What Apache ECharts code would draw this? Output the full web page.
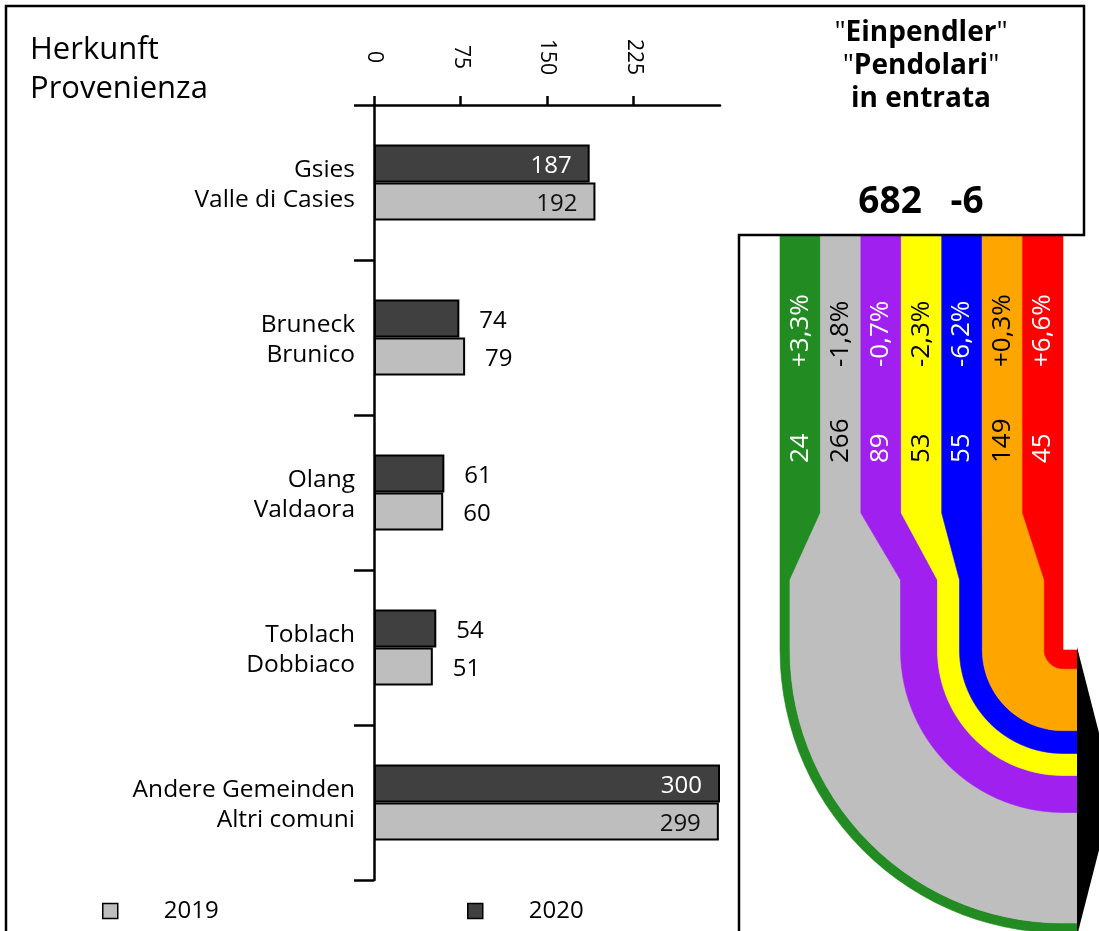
<!DOCTYPE html>
<html>
<head>
<meta charset="utf-8">
<title>Einpendler</title>
<script src="https://cdn.jsdelivr.net/npm/echarts@6/dist/echarts.min.js"></script>
<style>
  html, body { margin: 0; padding: 0; background: #fff; }
  #main { width: 1099px; height: 931px; }
</style>
</head>
<body>
<div id="main"></div>
<script>
// Herkunft / Provenienza
var categories = ['Gsies\nValle di Casies', 'Bruneck\nBrunico', 'Olang\nValdaora', 'Toblach\nDobbiaco', 'Andere Gemeinden\nAltri comuni'];
var values2019 = [192, 79, 60, 51, 299];
var values2020 = [187, 74, 61, 54, 300];
var xTicks = [0, 75, 150, 225];

// Bänder rechts (Einpendler in entrata)
var flowValues = [24, 266, 89, 53, 55, 149, 45];
var flowChange = ['+3,3%', '-1,8%', '-0,7%', '-2,3%', '-6,2%', '+0,3%', '+6,6%'];
var totalIn = 682;
var totalChange = -6;

var flowColors = ['#228b22', '#bebebe', '#a020f0', '#ffff00', '#0000ff', '#ffa500', '#ff0000'];
var flowTextColors = ['#ffffff', '#000000', '#ffffff', '#000000', '#ffffff', '#000000', '#ffffff'];

var FONT = 'Open Sans';
// Abstaende (px) ab Oberkante des Band-Rasters
var LAYOUT = { taperTop: 277, taperBottom: 344, turn: 414, pctY: 131, valY: 227, stub: 14, arrow: 37 };

var flowSum = 0;
var flowData = flowValues.map(function (v, i) {
    var d = [i, v, flowSum];
    flowSum += v;
    return d;
});

function barData(values, insideColor) {
    return values.map(function (v) {
        var inside = v >= 100;
        return {
            value: v,
            label: {
                position: inside ? 'insideRight' : 'right',
                distance: inside ? 18 : 20,
                color: inside ? insideColor : '#000'
            }
        };
    });
}

function arcPoints(cx, cy, r, reverse) {
    var pts = [];
    var steps = 30;
    for (var k = 0; k <= steps; k++) {
        var t = reverse ? 1 - k / steps : k / steps;
        var a = Math.PI - t * Math.PI / 2;
        pts.push([cx + r * Math.cos(a), cy + r * Math.sin(a)]);
    }
    return pts;
}

function renderFlow(params, api) {
    var i = api.value(0), v = api.value(1), c = api.value(2);
    var n = flowValues.length;
    var cs = params.coordSys;
    var px = function (x) { return api.coord([x, 0])[0]; };
    var slot = flowSum / n;
    var tl = px(i * slot), tr = px((i + 1) * slot);
    var bl = px(c), br = px(c + v);
    var cx = px(flowSum);
    var top = cs.y;
    var y1 = top + LAYOUT.taperTop, y2 = top + LAYOUT.taperBottom, cy = top + LAYOUT.turn;
    var xEnd = cx + LAYOUT.stub;
    var ro = cx - bl, ri = cx - br;

    var pts = [[tl, top], [tl, y1], [bl, y2], [bl, cy]];
    pts = pts.concat(arcPoints(cx, cy, ro, false));
    pts.push([xEnd, cy + ro], [xEnd, cy + ri]);
    pts = pts.concat(arcPoints(cx, cy, ri, true));
    pts.push([br, y2], [tr, y1], [tr, top]);

    var mid = (tl + tr) / 2;
    var children = [
        { type: 'polygon', shape: { points: pts },
          style: { fill: flowColors[i], stroke: flowColors[i], lineWidth: 0.6 } },
        { type: 'text', x: mid, y: top + LAYOUT.pctY, rotation: Math.PI / 2,
          style: { text: flowChange[i], fill: flowTextColors[i], font: '26px "' + FONT + '"',
                   align: 'left', verticalAlign: 'middle' } },
        { type: 'text', x: mid, y: top + LAYOUT.valY, rotation: Math.PI / 2,
          style: { text: String(v), fill: flowTextColors[i], font: '26px "' + FONT + '"',
                   align: 'left', verticalAlign: 'middle' } }
    ];
    if (i === n - 1) {
        var full = cx - px(0);
        children.push({ type: 'polygon',
            shape: { points: [[xEnd, cy - 3], [xEnd + LAYOUT.arrow, cy + full / 2], [xEnd, cy + full + 3]] },
            style: { fill: '#000' } });
    }
    return { type: 'group', children: children };
}

var myChart = echarts.init(document.getElementById('main'));

var option = {
    backgroundColor: '#fff',
    animation: false,
    textStyle: { fontFamily: FONT },
    title: {
        text: 'Herkunft\nProvenienza',
        left: 25, top: 26,
        textStyle: { fontSize: 31, fontWeight: 'normal', lineHeight: 38.5, color: '#000', fontFamily: FONT }
    },
    legend: [
        { data: ['2019'], left: 97, top: 894, icon: 'rect', itemWidth: 15, itemHeight: 15, selectedMode: false,
          itemStyle: { borderWidth: 1.5, borderColor: '#000' },
          textStyle: { fontSize: 24, color: '#000', fontFamily: FONT, padding: [0, 0, 0, 41] } },
        { data: ['2020'], left: 462, top: 894, icon: 'rect', itemWidth: 15, itemHeight: 15, selectedMode: false,
          itemStyle: { borderWidth: 1.5, borderColor: '#000' },
          textStyle: { fontSize: 24, color: '#000', fontFamily: FONT, padding: [0, 0, 0, 41] } }
    ],
    grid: [
        { left: 374, top: 105, width: 346, height: 775, outerBoundsMode: 'none' },
        { left: 780, top: 236, width: 283, height: 695, outerBoundsMode: 'none' }
    ],
    xAxis: [
        { type: 'value', gridIndex: 0, position: 'top', min: 0, max: 300,
          axisLine: { show: true, lineStyle: { color: '#000', width: 2.5 } },
          axisTick: { show: true, length: 9, lineStyle: { color: '#000', width: 2.5 }, customValues: xTicks },
          axisLabel: { rotate: 90, margin: 48, align: 'center', verticalAlign: 'middle',
                       fontSize: 21, color: '#000', fontFamily: FONT, customValues: xTicks },
          splitLine: { show: false } },
        { type: 'value', gridIndex: 1, min: 0, max: flowSum, show: false }
    ],
    yAxis: [
        { type: 'category', gridIndex: 0, inverse: true, data: categories,
          axisLine: { show: true, lineStyle: { color: '#000', width: 2.5 } },
          axisTick: { show: true, length: 20, lineStyle: { color: '#000', width: 2.5 } },
          axisLabel: {
              margin: 19, color: '#000', fontFamily: FONT,
              formatter: function (s) {
                  return '{s| }\n' + s.split('\n').map(function (l) { return '{a|' + l + '}'; }).join('\n');
              },
              rich: {
                  s: { fontSize: 1, lineHeight: 6 },
                  a: { fontSize: 24.5, lineHeight: 30, color: '#000', fontFamily: FONT }
              }
          },
          splitLine: { show: false } },
        { type: 'value', gridIndex: 1, min: 0, max: 1, show: false }
    ],
    series: [
        { name: '2020', type: 'bar', xAxisIndex: 0, yAxisIndex: 0, data: barData(values2020, '#fff'),
          barWidth: 38, barGap: '0%',
          itemStyle: { color: '#404040', borderColor: '#000', borderWidth: 2 },
          label: { show: true, fontSize: 24, fontFamily: FONT, offset: [0, 3] } },
        { name: '2019', type: 'bar', xAxisIndex: 0, yAxisIndex: 0, data: barData(values2019, '#111'),
          barWidth: 38, barGap: '0%',
          itemStyle: { color: '#bebebe', borderColor: '#000', borderWidth: 2 },
          label: { show: true, fontSize: 24, fontFamily: FONT, offset: [0, 3] } },
        { name: 'flow', type: 'custom', xAxisIndex: 1, yAxisIndex: 1, coordinateSystem: 'cartesian2d',
          renderItem: renderFlow, data: flowData, clip: false, silent: true, z: 1 }
    ],
    graphic: [
        { type: 'polyline', z: 100, silent: true,
          shape: { points: [[6, 931], [6, 6], [1084, 6], [1084, 235], [739, 235], [739, 931]] },
          style: { stroke: '#000', lineWidth: 2.5, fill: null } },
        { type: 'text', x: 921, y: 17, z: 100, silent: true,
          style: {
              text: '{q|"}{b|Einpendler}{q|"}\n{q|"}{b|Pendolari}{q|"}\n{b|in entrata}',
              align: 'center', verticalAlign: 'top', fill: '#000',
              rich: {
                  q: { fontSize: 28, fontFamily: FONT, fontWeight: 'normal', lineHeight: 33 },
                  b: { fontSize: 28, fontFamily: FONT, fontWeight: 'bold', lineHeight: 33 }
              }
          } },
        { type: 'text', x: 921, y: 202, z: 100, silent: true,
          style: { text: totalIn + '   ' + totalChange, align: 'center', verticalAlign: 'middle',
                   fill: '#000', font: 'bold 37px "' + FONT + '"' } }
    ]
};

myChart.setOption(option);
</script>
</body>
</html>
